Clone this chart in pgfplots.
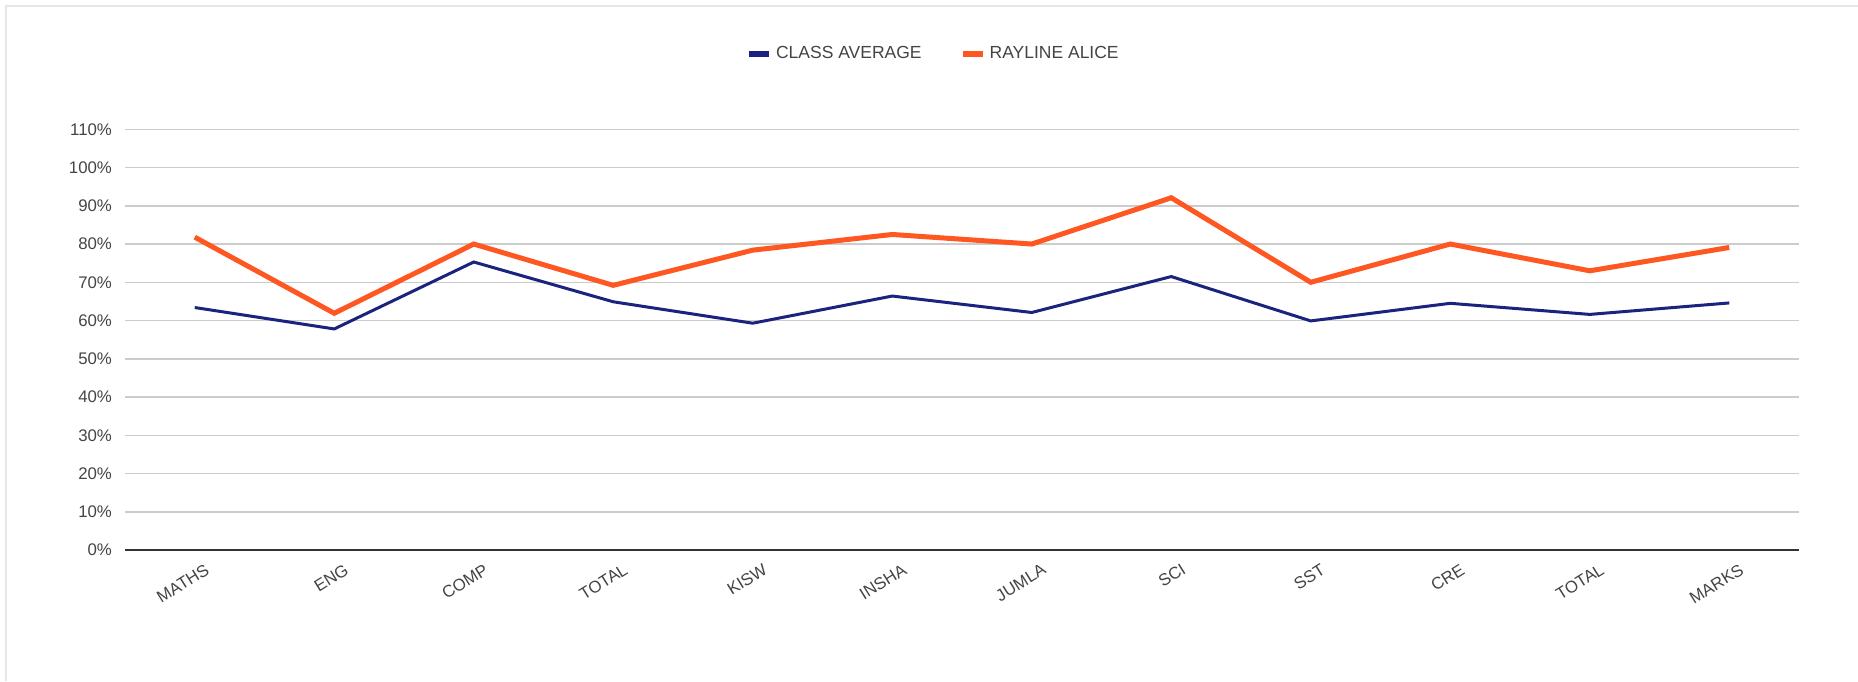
\documentclass[border=0pt]{standalone}
\usepackage{pgfplots}
\pgfplotsset{compat=1.18}
\usepackage{fontspec}
\setmainfont{Liberation Sans}
\definecolor{clsblue}{HTML}{1A237E}
\definecolor{aliceorange}{HTML}{FF5722}
\definecolor{txt}{HTML}{444444}
\definecolor{gridc}{HTML}{CCCCCC}
\definecolor{framec}{HTML}{E6E6E6}
\definecolor{axisc}{HTML}{333333}
\begin{document}
\begin{tikzpicture}[x=1pt,y=1pt]
\path[use as bounding box] (0,0) rectangle (929,340.5);
\draw[framec, line width=1pt] (2.75,0) -- (2.75,337.25) -- (929,337.25);
\begin{axis}[
  at={(62.5pt,65.5pt)}, anchor=south west,
  scale only axis, width=837pt, height=210.35pt,
  xmin=-0.5, xmax=11.5, ymin=0, ymax=110,
  xtick={0,...,11},
  xticklabels={MATHS,ENG,COMP,TOTAL,KISW,INSHA,JUMLA,SCI,SST,CRE,TOTAL,MARKS},
  ytick={0,10,...,110},
  yticklabels={0\%,10\%,20\%,30\%,40\%,50\%,60\%,70\%,80\%,90\%,100\%,110\%},
  axis x line*=bottom, axis y line*=left,
  x axis line style={axisc, line width=1pt, -},
  y axis line style={draw=none},
  major tick length=0pt,
  ymajorgrids, grid style={gridc, line width=0.75pt},
  tick label style={font=\fontsize{8.4}{10}\selectfont, text=txt},
  yticklabel style={xshift=-3pt},
  xticklabel style={rotate=32, anchor=north east, xshift=4pt, yshift=-4.5pt},
  legend style={at={(0.4835,1.180)}, anchor=center, draw=none, fill=none,
    legend columns=2, font=\fontsize{8.75}{10}\selectfont, text=txt,
    /tikz/every even column/.append style={column sep=17pt}},
  legend image code/.code={\draw[#1, line width=3pt] (0pt,0pt) -- (10pt,0pt);},
]
\addplot[clsblue, line width=1.5pt] coordinates {
(0,63.4) (1,57.8) (2,75.3) (3,64.9) (4,59.3) (5,66.4) (6,62.1) (7,71.5) (8,59.9) (9,64.5) (10,61.6) (11,64.6)};
\addlegendentry{CLASS AVERAGE}
\addplot[aliceorange, line width=2.5pt] coordinates {
(0,81.8) (1,61.9) (2,80.0) (3,69.2) (4,78.4) (5,82.5) (6,80.0) (7,92.1) (8,70.0) (9,80.0) (10,73.0) (11,79.1)};
\addlegendentry{RAYLINE ALICE}
\end{axis}
\end{tikzpicture}
\end{document}
